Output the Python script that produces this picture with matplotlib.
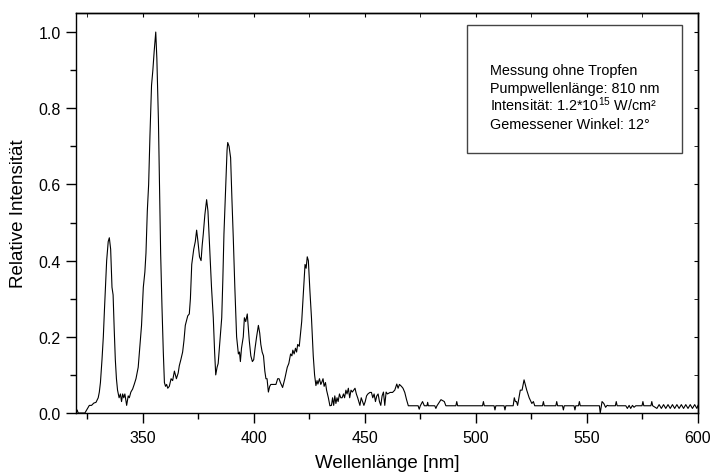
import matplotlib.pyplot as plt
from matplotlib.patches import Rectangle
from matplotlib.ticker import MultipleLocator, FormatStrFormatter

plt.rcParams['font.family'] = ['Liberation Sans', 'DejaVu Sans']
plt.rcParams['mathtext.fontset'] = 'custom'
plt.rcParams['mathtext.rm'] = 'Liberation Sans'

# spectrum (nm, relative intensity)
wavelength = [
    320.0, 320.5, 321.0, 324.0, 325.0, 326.0, 327.0, 328.0, 329.0, 330.0,
    330.5, 331.0, 331.7, 332.3, 332.8, 333.8, 334.5, 335.0, 335.6, 336.2,
    336.7, 337.2, 337.7, 338.2, 338.7, 339.4, 340.0, 340.5, 341.0, 341.5,
    342.0, 342.8, 343.5, 344.0, 344.7, 345.5, 346.2, 347.0, 348.0, 348.8,
    349.5, 350.3, 351.0, 351.5, 352.1, 352.7, 353.3, 354.0, 354.6, 355.2,
    355.9, 356.4, 357.1, 357.6, 358.1, 358.7, 359.3, 359.8, 360.3, 360.8,
    361.3, 362.0, 362.8, 363.5, 364.3, 365.2, 366.0, 366.5, 367.2, 368.0,
    368.6, 369.2, 370.3, 371.0, 371.5, 372.1, 373.0, 373.7, 374.3, 374.9,
    375.6, 376.3, 376.8, 377.3, 378.0, 378.8, 379.4, 380.3, 381.0, 381.8,
    382.4, 382.9, 383.5, 384.0, 384.8, 385.6, 386.1, 386.6, 387.4, 388.0,
    388.3, 388.9, 389.6, 390.2, 390.8, 391.5, 392.3, 393.1, 393.6, 394.0,
    394.5, 395.3, 395.8, 396.4, 397.1, 397.6, 398.0, 398.7, 399.4, 400.0,
    400.6, 401.3, 402.1, 402.7, 403.2, 403.8, 404.4, 405.0, 405.5, 406.0,
    406.6, 407.2, 407.7, 408.5, 409.3, 410.0, 410.8, 411.4, 412.0, 413.0,
    414.0, 415.1, 415.8, 416.6, 417.2, 417.6, 418.2, 418.8, 419.3, 419.8,
    420.5, 421.1, 421.6, 422.3, 423.1, 423.6, 424.1, 424.6, 425.3, 426.0,
    426.8, 427.4, 428.0, 428.5, 428.9, 429.6, 430.2, 430.6, 431.2, 431.7,
    432.3, 432.8, 433.6, 434.3, 435.0, 435.5, 436.0, 436.5, 437.0, 437.5,
    438.0, 438.6, 439.2, 439.8, 440.4, 440.9, 441.5, 442.0, 442.6, 443.2,
    443.8, 444.4, 445.0, 445.6, 446.2, 446.8, 447.3, 447.8, 448.4, 449.0,
    449.6, 450.2, 450.8, 451.4, 452.3, 453.0, 453.6, 454.2, 454.8, 455.4,
    456.0, 456.6, 457.2, 457.8, 458.4, 459.0, 459.6, 460.2, 461.4, 462.5,
    463.5, 464.4, 465.0, 465.6, 466.5, 467.2, 468.0, 468.8, 469.6, 474.0,
    474.5, 475.0, 476.0, 476.8, 478.0, 478.3, 478.6, 481.5, 482.0, 482.5,
    484.3, 485.8, 486.5, 491.0, 491.4, 491.8, 503.0, 503.4, 503.8, 508.2,
    508.6, 509.0, 512.7, 513.1, 513.5, 516.8, 517.3, 517.8, 518.3, 518.8,
    520.0, 520.8, 521.7, 522.9, 524.0, 525.2, 525.9, 526.5, 530.0, 530.4,
    530.8, 536.0, 536.4, 536.8, 539.0, 539.4, 539.8, 544.2, 544.6, 545.0,
    546.2, 546.6, 547.0, 555.6, 556.0, 556.8, 557.6, 558.4, 559.1, 559.8,
    562.8, 563.2, 563.6, 567.5, 568.2, 569.0, 569.7, 570.5, 571.2, 572.0,
    574.8, 575.2, 575.6, 578.8, 579.2, 579.6, 581.5, 582.5, 583.5, 584.5,
    585.5, 586.5, 587.5, 588.5, 589.5, 590.5, 591.5, 592.5, 593.5, 594.5,
    595.5, 596.5, 597.5, 598.5, 599.5, 600.0,
]
intensity = [
    0.0, 0.008, 0.0, 0.0, 0.01, 0.02, 0.02, 0.026, 0.028, 0.04,
    0.055, 0.08, 0.14, 0.20, 0.27, 0.40, 0.45, 0.46, 0.43, 0.33,
    0.31, 0.22, 0.14, 0.09, 0.06, 0.04, 0.05, 0.03, 0.05, 0.04,
    0.05, 0.02, 0.045, 0.04, 0.055, 0.063, 0.075, 0.09, 0.12, 0.18,
    0.23, 0.33, 0.37, 0.42, 0.53, 0.60, 0.73, 0.86, 0.90, 0.95,
    1.0, 0.93, 0.77, 0.60, 0.42, 0.28, 0.16, 0.08, 0.07, 0.075,
    0.065, 0.07, 0.09, 0.085, 0.11, 0.09, 0.105, 0.124, 0.14, 0.16,
    0.19, 0.23, 0.255, 0.26, 0.30, 0.39, 0.43, 0.45, 0.48, 0.45,
    0.41, 0.40, 0.44, 0.47, 0.52, 0.56, 0.53, 0.42, 0.33, 0.25,
    0.16, 0.10, 0.12, 0.13, 0.19, 0.25, 0.35, 0.47, 0.60, 0.69,
    0.71, 0.70, 0.67, 0.56, 0.46, 0.33, 0.20, 0.155, 0.16, 0.135,
    0.17, 0.20, 0.25, 0.24, 0.26, 0.22, 0.19, 0.15, 0.135, 0.14,
    0.17, 0.20, 0.23, 0.21, 0.18, 0.16, 0.15, 0.11, 0.09, 0.09,
    0.055, 0.07, 0.075, 0.075, 0.075, 0.075, 0.09, 0.09, 0.08, 0.067,
    0.09, 0.12, 0.13, 0.155, 0.15, 0.165, 0.155, 0.17, 0.16, 0.18,
    0.175, 0.21, 0.24, 0.31, 0.39, 0.38, 0.41, 0.40, 0.32, 0.25,
    0.15, 0.10, 0.072, 0.085, 0.076, 0.09, 0.075, 0.08, 0.09, 0.07,
    0.08, 0.06, 0.04, 0.019, 0.02, 0.04, 0.02, 0.045, 0.025, 0.04,
    0.03, 0.05, 0.04, 0.04, 0.05, 0.04, 0.06, 0.05, 0.065, 0.04,
    0.06, 0.055, 0.06, 0.065, 0.05, 0.04, 0.03, 0.02, 0.04, 0.03,
    0.02, 0.03, 0.045, 0.05, 0.054, 0.054, 0.04, 0.05, 0.03, 0.045,
    0.05, 0.03, 0.02, 0.045, 0.055, 0.02, 0.055, 0.05, 0.054, 0.054,
    0.06, 0.076, 0.065, 0.075, 0.07, 0.065, 0.054, 0.035, 0.019, 0.019,
    0.01, 0.019, 0.03, 0.019, 0.019, 0.028, 0.019, 0.019, 0.012, 0.019,
    0.035, 0.03, 0.019, 0.019, 0.03, 0.019, 0.019, 0.03, 0.019, 0.019,
    0.008, 0.019, 0.019, 0.008, 0.019, 0.019, 0.04, 0.03, 0.03, 0.02,
    0.06, 0.06, 0.087, 0.06, 0.04, 0.025, 0.03, 0.019, 0.019, 0.03,
    0.019, 0.019, 0.03, 0.019, 0.019, 0.008, 0.019, 0.019, 0.008, 0.019,
    0.019, 0.03, 0.019, 0.019, 0.0, 0.03, 0.025, 0.015, 0.02, 0.019,
    0.019, 0.03, 0.019, 0.019, 0.012, 0.02, 0.012, 0.02, 0.015, 0.019,
    0.019, 0.03, 0.019, 0.019, 0.03, 0.019, 0.012, 0.022, 0.012, 0.022,
    0.012, 0.022, 0.012, 0.022, 0.012, 0.022, 0.012, 0.022, 0.012, 0.022,
    0.012, 0.022, 0.012, 0.022, 0.012, 0.02,
]

info_lines = [
    'Messung ohne Tropfen',
    'Pumpwellenlänge: 810 nm',
    'Intensität: 1.2*10$^{15}$ W/cm²',
    'Gemessener Winkel: 12°',
]

fig = plt.figure(figsize=(7.11, 4.77), dpi=100)
ax = fig.add_axes([76 / 711, 63 / 477, 622 / 711, 400 / 477])

ax.plot(wavelength, intensity, color='black', lw=0.8)

ax.set_xlim(320, 600)
ax.set_ylim(0, 1.05)
ax.xaxis.set_major_locator(MultipleLocator(50))
ax.xaxis.set_minor_locator(MultipleLocator(25))
ax.yaxis.set_major_locator(MultipleLocator(0.2))
ax.yaxis.set_minor_locator(MultipleLocator(0.1))
ax.yaxis.set_major_formatter(FormatStrFormatter('%.1f'))

ax.tick_params(which='both', direction='out', top=False, right=False,
               labelsize=11.5, width=1)
ax.tick_params(axis='x', pad=5)
ax.tick_params(axis='y', pad=4)
ax.tick_params(which='major', length=7)
ax.tick_params(which='minor', length=4)

# inward ticks on top and right, without labels
top = ax.secondary_xaxis('top')
top.xaxis.set_major_locator(MultipleLocator(50))
top.xaxis.set_minor_locator(MultipleLocator(25))
top.tick_params(which='both', direction='in', length=3, labeltop=False)
right = ax.secondary_yaxis('right')
right.yaxis.set_major_locator(MultipleLocator(0.2))
right.yaxis.set_minor_locator(MultipleLocator(0.1))
right.tick_params(which='both', direction='in', length=3, labelright=False)

for s in ax.spines.values():
    s.set_linewidth(1.0)
top.spines['top'].set_linewidth(1.0)
right.spines['right'].set_linewidth(1.0)

ax.set_xlabel('Wellenlänge [nm]', fontsize=13.5, labelpad=7)
ax.set_ylabel('Relative Intensität', fontsize=13.5, labelpad=8)

ax.add_patch(Rectangle((0.628, 0.649), 0.347, 0.321, transform=ax.transAxes,
                       fill=False, edgecolor='#444444', lw=1.0, zorder=5))
for i, line in enumerate(info_lines):
    ax.text(0.666, 0.8475 - i * 0.0452, line, transform=ax.transAxes,
            fontsize=10.4, va='baseline', ha='left', zorder=6)

fig.savefig('out.png', dpi=100)
